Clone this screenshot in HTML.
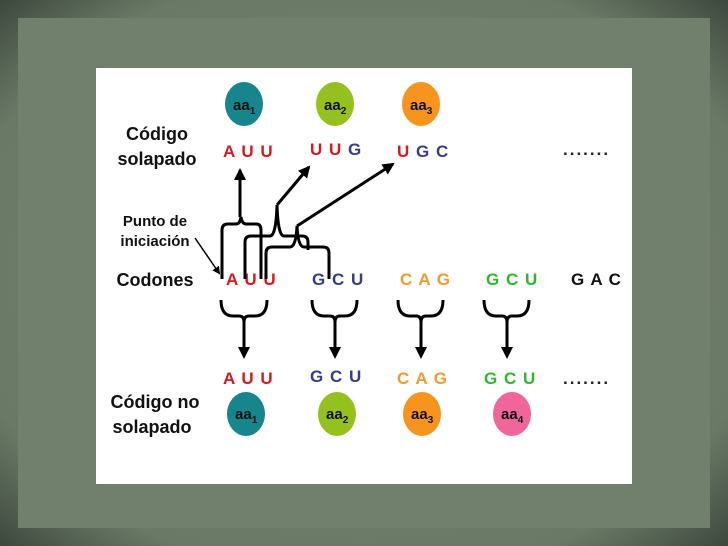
<!DOCTYPE html>
<html><head><style>
html,body{margin:0;padding:0;}
body{width:728px;height:546px;overflow:hidden;background:#6e7d6c;}
</style></head><body>
<svg width="728" height="546" xmlns="http://www.w3.org/2000/svg" style="position:absolute;left:0;top:0" font-family="Liberation Sans, sans-serif" font-weight="bold">
<defs>
<radialGradient id="bg" cx="50%" cy="50%" r="70%"><stop offset="0" stop-color="#75846f"/><stop offset="0.8" stop-color="#6a7966"/><stop offset="1" stop-color="#3e4a3f"/></radialGradient>
<marker id="ah" markerWidth="8" markerHeight="8" refX="6" refY="4" orient="auto" markerUnits="userSpaceOnUse"><path d="M0,0 L8,4 L0,8 z" fill="#000"/></marker>
<marker id="ah2" markerWidth="12" markerHeight="12" refX="10" refY="6" orient="auto" markerUnits="userSpaceOnUse"><path d="M0,0 L12,6 L0,12 z" fill="#000"/></marker>
</defs>
<rect width="728" height="546" fill="url(#bg)"/>
<rect x="18" y="18" width="692" height="510" fill="#71806d"/>
<rect x="96" y="68" width="536" height="416" fill="#fff"/>
<ellipse cx="244" cy="104" rx="19" ry="22" fill="#17868c"/>
<ellipse cx="335" cy="104" rx="19" ry="22" fill="#95c11f"/>
<ellipse cx="421" cy="104" rx="19" ry="22" fill="#f7941d"/>
<g font-size="15" fill="#111">
<text x="233" y="110">aa<tspan font-size="10" dy="4">1</tspan></text>
<text x="324" y="110">aa<tspan font-size="10" dy="4">2</tspan></text>
<text x="410" y="110">aa<tspan font-size="10" dy="4">3</tspan></text>
</g>
<ellipse cx="246" cy="414" rx="19" ry="22" fill="#17868c"/>
<ellipse cx="337" cy="414" rx="19" ry="22" fill="#95c11f"/>
<ellipse cx="422" cy="414" rx="19" ry="22" fill="#f7941d"/>
<ellipse cx="512" cy="414" rx="19" ry="22" fill="#f0669a"/>
<g font-size="15" fill="#111">
<text x="235" y="419">aa<tspan font-size="10" dy="4">1</tspan></text>
<text x="326" y="419">aa<tspan font-size="10" dy="4">2</tspan></text>
<text x="411" y="419">aa<tspan font-size="10" dy="4">3</tspan></text>
<text x="501" y="419">aa<tspan font-size="10" dy="4">4</tspan></text>
</g>
<g font-size="18" fill="#111" text-anchor="middle">
<text x="157" y="140">Código</text>
<text x="157" y="165">solapado</text>
<text x="155" y="286">Codones</text>
<text x="155" y="408">Código no</text>
<text x="152" y="433">solapado</text>
</g>
<g font-size="15" fill="#111" text-anchor="middle">
<text x="155" y="226">Punto de</text>
<text x="155" y="246">iniciación</text>
</g>
<g font-size="17" letter-spacing="1">
<text x="223" y="157" fill="#d7191f">A U U</text>
<text x="310" y="155"><tspan fill="#d7191f">U U </tspan><tspan fill="#3b3b8a">G</tspan></text>
<text x="397" y="157"><tspan fill="#d7191f">U </tspan><tspan fill="#3b3b8a">G C</tspan></text>
<text x="563" y="155" fill="#222" letter-spacing="2">.......</text>
<text x="226" y="285" fill="#d7191f">A U U</text>
<text x="312" y="285" fill="#3b3b8a">G C U</text>
<text x="400" y="285" fill="#f39a30">C A G</text>
<text x="486" y="285" fill="#2fb52f">G C U</text>
<text x="571" y="285" fill="#111">G A C</text>
<text x="223" y="384" fill="#d7191f">A U U</text>
<text x="310" y="382" fill="#3b3b8a">G C U</text>
<text x="397" y="384" fill="#f39a30">C A G</text>
<text x="484" y="384" fill="#2fb52f">G C U</text>
<text x="563" y="384" fill="#222" letter-spacing="2">.......</text>
</g>
<g fill="none" stroke="#000" stroke-width="3">
<path d="M222,279 L222,230 Q222,224 228,224 L236,224 Q240,224 241,217 Q242,224 246,224 L256,224 Q261,224 261,230 L261,279"/>
<path d="M240,217 L240,170" marker-end="url(#ah2)"/>
<path d="M245,279 L245,242 Q245,236 251,236 L270,236 Q276,236 277,205 Q278,236 284,236 L302,236 Q308,236 308,242 L308,250"/>
<path d="M277,205 L309,167" marker-end="url(#ah2)"/>
<path d="M266,279 L266,253 Q266,247 272,247 L290,247 Q296,247 297,226 Q298,247 304,247 L323,247 Q329,247 329,253 L329,279"/>
<path d="M297,226 L393,164" marker-end="url(#ah2)"/>
</g>
<path d="M195,238 L219,273" stroke="#000" stroke-width="1.5" fill="none" marker-end="url(#ah)"/>
<g fill="none" stroke="#000" stroke-width="3">
<path d="M221,300 Q221,316 233,316 L239,316 Q244,316 244,322 M267,300 Q267,316 255,316 L249,316 Q244,316 244,322 L244,348"/>
<path d="M312,300 Q312,316 324,316 L330,316 Q335,316 335,322 M357,300 Q357,316 345,316 L340,316 Q335,316 335,322 L335,348"/>
<path d="M398,300 Q398,316 410,316 L416,316 Q421,316 421,322 M443,300 Q443,316 431,316 L426,316 Q421,316 421,322 L421,348"/>
<path d="M484,300 Q484,316 496,316 L502,316 Q507,316 507,322 M529,300 Q529,316 517,316 L512,316 Q507,316 507,322 L507,348"/>
</g>
<g fill="#000">
<path d="M238,347 L250,347 L244,359 z"/>
<path d="M329,347 L341,347 L335,359 z"/>
<path d="M415,347 L427,347 L421,359 z"/>
<path d="M501,347 L513,347 L507,359 z"/>
</g>
</svg>
</body></html>
